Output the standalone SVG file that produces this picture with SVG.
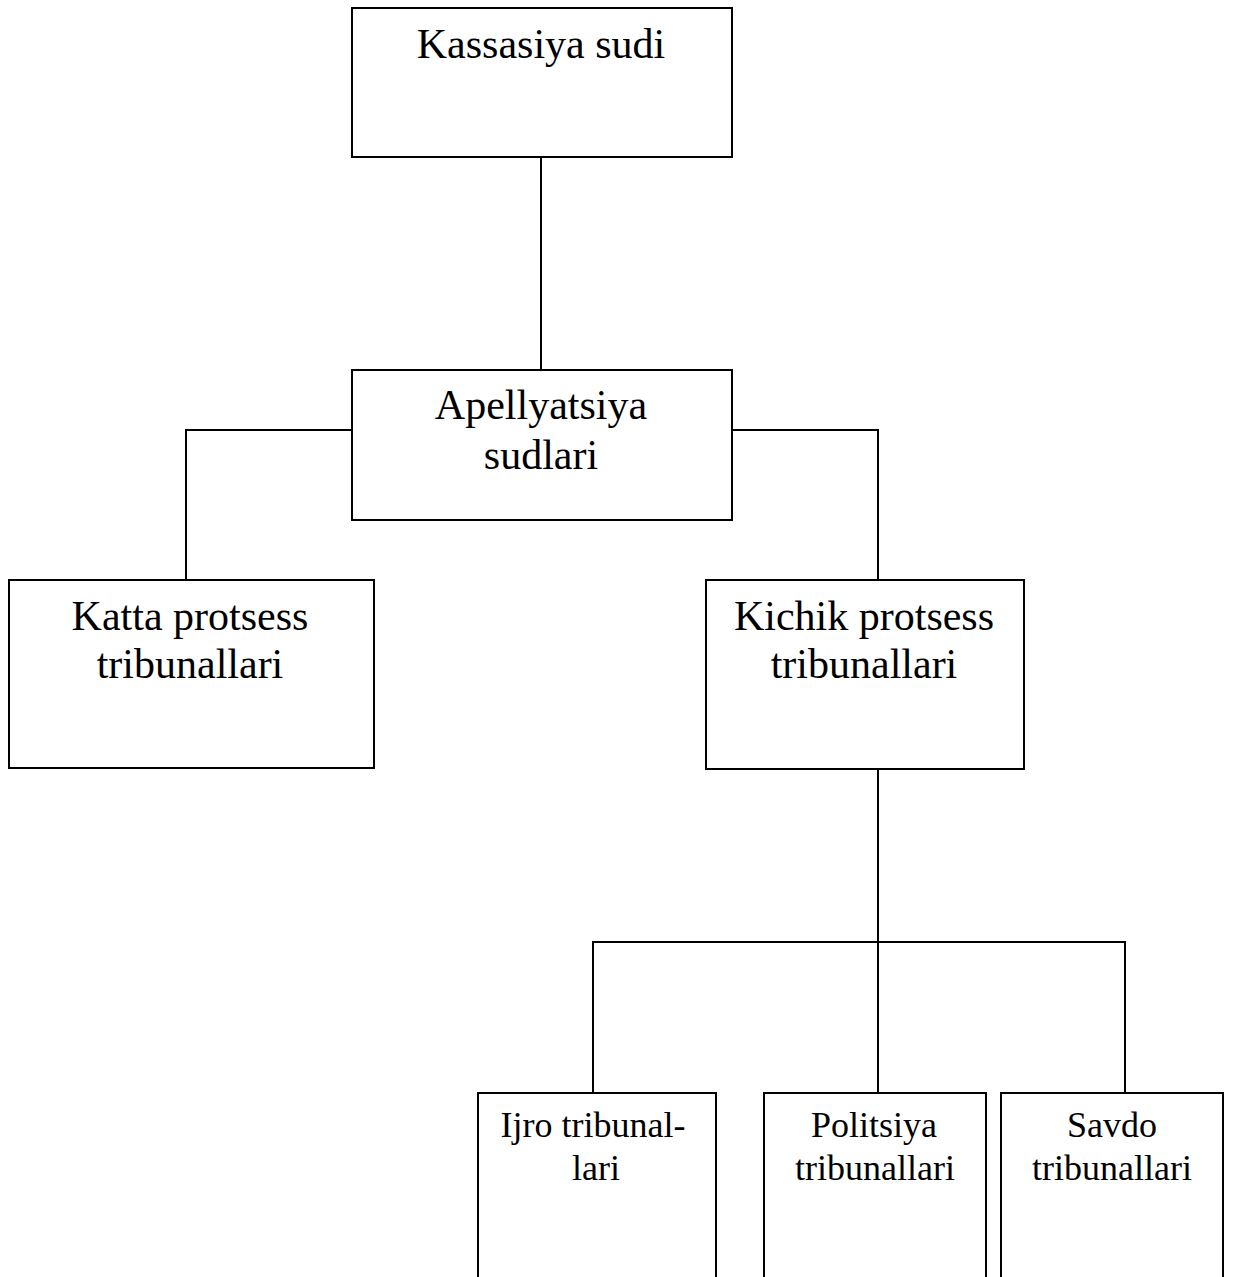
<svg xmlns="http://www.w3.org/2000/svg" width="1233" height="1277" viewBox="0 0 1233 1277">
  <style>
    .box { fill: #ffffff; stroke: #000000; stroke-width: 2; }
    .wire { fill: none; stroke: #000000; stroke-width: 2; }
    .lbl { font-family: "Liberation Serif", "Times New Roman", serif; font-size: 42px; fill: #000000; text-anchor: middle; }
    .lbl-sm { font-family: "Liberation Serif", "Times New Roman", serif; font-size: 36px; fill: #000000; text-anchor: middle; }
  </style>
  <rect width="1233" height="1277" fill="#ffffff"/>

  <!-- connectors -->
  <g id="connectors">
    <path class="wire" d="M541 157 V370"/>
    <path class="wire" d="M352 430 H186 V580"/>
    <path class="wire" d="M732 430 H878 V580"/>
    <path class="wire" d="M878 769 V1093"/>
    <path class="wire" d="M593 1093 V942 H1125 V1093"/>
  </g>

  <g id="kassasiya">
    <rect class="box" x="352" y="8" width="380" height="149"/>
    <text class="lbl" x="541" y="58">Kassasiya sudi</text>
  </g>

  <g id="apellyatsiya">
    <rect class="box" x="352" y="370" width="380" height="150"/>
    <text class="lbl" x="541" y="419">Apellyatsiya</text>
    <text class="lbl" x="541" y="469">sudlari</text>
  </g>

  <g id="katta">
    <rect class="box" x="9" y="580" width="365" height="188"/>
    <text class="lbl" x="190" y="630">Katta protsess</text>
    <text class="lbl" x="190" y="678">tribunallari</text>
  </g>

  <g id="kichik">
    <rect class="box" x="706" y="580" width="318" height="189"/>
    <text class="lbl" x="864" y="630">Kichik protsess</text>
    <text class="lbl" x="864" y="678">tribunallari</text>
  </g>

  <g id="ijro">
    <rect class="box" x="478" y="1093" width="238" height="220"/>
    <text class="lbl-sm" x="593" y="1137">Ijro tribunal-</text>
    <text class="lbl-sm" x="596" y="1180">lari</text>
  </g>

  <g id="politsiya">
    <rect class="box" x="764" y="1093" width="222" height="220"/>
    <text class="lbl-sm" x="874" y="1137">Politsiya</text>
    <text class="lbl-sm" x="875" y="1180">tribunallari</text>
  </g>

  <g id="savdo">
    <rect class="box" x="1001" y="1093" width="222" height="220"/>
    <text class="lbl-sm" x="1112" y="1137">Savdo</text>
    <text class="lbl-sm" x="1112" y="1180">tribunallari</text>
  </g>
</svg>
